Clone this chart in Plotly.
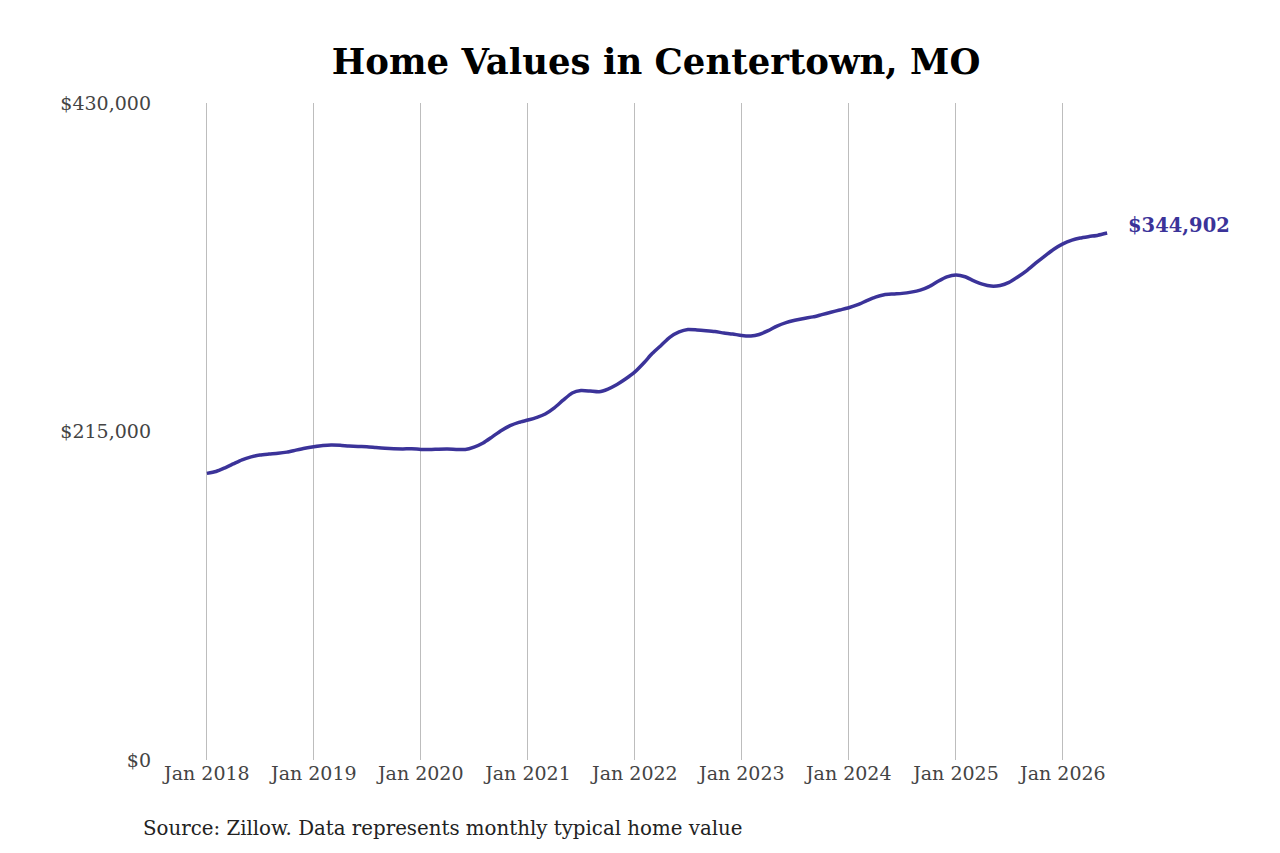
import pandas as pd
import plotly.graph_objects as go

# Monthly typical home value, Jan 2018 - Jun 2026
months = pd.date_range("2018-01-01", "2026-06-01", freq="MS")

values_2018 = [187600, 188800, 191000, 193800, 196500, 198400,
               199600, 200200, 200700, 201500, 202800, 204000]
values_2019 = [205000, 205800, 206200, 206000, 205500, 205200,
               205100, 204500, 204000, 203700, 203600, 203700]
values_2020 = [203300, 203200, 203400, 203500, 203300, 203200,
               204800, 207500, 211500, 215500, 218800, 221000]
values_2021 = [222500, 224300, 226500, 230500, 235500, 240200,
               241800, 241500, 241000, 242800, 245800, 249500]
values_2022 = [254000, 260000, 266000, 271500, 276800, 280200,
               281800, 281500, 281000, 280400, 279500, 278800]
values_2023 = [277800, 277500, 278500, 281000, 284000, 286300,
               287800, 289000, 290000, 291500, 293000, 294500]
values_2024 = [296000, 298000, 300500, 303000, 304500, 305000,
               305400, 306200, 307500, 309800, 313300, 316200]
values_2025 = [317400, 316300, 313800, 311500, 310200, 310600,
               312600, 316300, 320500, 325300, 330000, 334300]
values_2026 = [337800, 340200, 341600, 342600, 343500, 344902]

home_values = (values_2018 + values_2019 + values_2020 + values_2021 + values_2022
               + values_2023 + values_2024 + values_2025 + values_2026)

y_ticks = [0, 215000, 430000]
y_tick_labels = ["$0", "$215,000", "$430,000"]
x_ticks = pd.date_range("2018-01-01", "2026-01-01", freq="YS")

line_color = "#3b3399"
serif = "DejaVu Serif"

# plot area in figure pixels (page body adds an 8px offset)
plot_left, plot_right, plot_top, plot_bottom = 180.5, 1117.5, 95, 752
W, H = 1280, 853

fig = go.Figure()
fig.add_trace(go.Scatter(
    x=months,
    y=home_values,
    mode="lines",
    line=dict(color=line_color, width=3.5, shape="spline", smoothing=0.6),
    showlegend=False,
    hoverinfo="skip",
))

# label for the latest value
fig.add_annotation(
    x=months[-1], y=home_values[-1],
    text=f"<b>${home_values[-1]:,}</b>",
    showarrow=False, xanchor="left", yanchor="middle",
    xshift=19, yshift=8,
    font=dict(family=serif, size=19.5, color=line_color),
)

# source note, positioned in pixel terms
fig.add_annotation(
    x=(132 - plot_left) / (plot_right - plot_left),
    y=(plot_bottom - 820) / (plot_bottom - plot_top),
    xref="paper", yref="paper",
    text="Source: Zillow. Data represents monthly typical home value",
    showarrow=False, xanchor="left", yanchor="middle",
    font=dict(family=serif, size=19.8, color="#222222"),
)

fig.update_layout(
    width=W, height=H,
    margin=dict(l=plot_left, r=W - plot_right, t=plot_top, b=H - plot_bottom),
    paper_bgcolor="white", plot_bgcolor="white",
    title=dict(
        text="<b>Home Values in Centertown, MO</b>",
        x=(656 - 8) / W, xanchor="center", y=1 - 54 / H, yanchor="middle",
        font=dict(family=serif, size=35.5, color="black"),
    ),
    font=dict(family=serif, color="#444444"),
)
fig.update_xaxes(
    range=["2017-11-01", "2026-08-01"],
    tickvals=x_ticks,
    ticktext=[d.strftime("Jan %Y") for d in x_ticks],
    tickfont=dict(family=serif, size=19, color="#444444"),
    showgrid=True, gridcolor="#bdbdbd", gridwidth=1,
    zeroline=False, showline=False, ticks="",
    fixedrange=True,
)
fig.update_yaxes(
    range=[0, 430000],
    tickvals=y_ticks,
    ticktext=y_tick_labels,
    tickfont=dict(family=serif, size=19, color="#444444"),
    showgrid=False, zeroline=False, showline=False, ticks="",
    ticklabelstandoff=37,
    fixedrange=True,
)

fig.write_html("out.html")
